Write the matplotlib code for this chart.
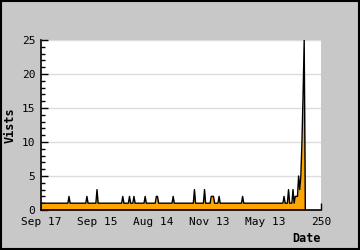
import matplotlib
matplotlib.use("Agg")
import matplotlib.pyplot as plt
from matplotlib.patches import Rectangle
from matplotlib.ticker import MultipleLocator, FixedLocator
import numpy as np

# Data: baseline of 1 visit per point, with spikes
n_points = 237
base_visits = 1
spike_idx = [25, 41, 50, 73, 79, 83, 93, 103, 104, 118, 137, 146, 152, 153, 154,
             159, 180, 217, 221, 225, 227, 228, 229, 230, 231, 232, 233, 234, 235, 236]
spike_val = [2, 2, 3, 2, 2, 2, 2, 2, 2, 2, 3, 3, 2, 2, 2,
             2, 2, 2, 3, 3, 2, 2, 2, 5, 3, 5, 10, 17, 25, 0]

tick_pos = [0, 50, 100, 150, 200, 250]
tick_labels = ["Sep 17", "Sep 15", "Aug 14", "Nov 13", "May 13", "250"]

visits = np.full(n_points, base_visits, dtype=float)
visits[spike_idx] = spike_val
x = np.arange(n_points)

plt.rcParams['font.family'] = 'DejaVu Sans Mono'

fig = plt.figure(figsize=(3.6, 2.5), dpi=100, facecolor="#c8c8c8")
# black frame round the whole image
fig.patches.append(Rectangle((1 / 360, 1 / 250), 358 / 360, 248 / 250,
                             transform=fig.transFigure, fill=False,
                             edgecolor="black", linewidth=1.5))

ax = fig.add_axes([41 / 360, 40 / 250, 280 / 360, 170 / 250])

ax.fill_between(x, 0, visits, color="#ffa500", linewidth=0)
ax.plot(x, visits, color="black", linewidth=1.0)

ax.set_xlim(0, 250)
ax.set_ylim(0, 25)

ax.yaxis.set_major_locator(MultipleLocator(5))
ax.yaxis.set_minor_locator(MultipleLocator(1))
ax.xaxis.set_major_locator(FixedLocator(tick_pos))
ax.set_xticklabels(tick_labels)

ax.grid(axis="y", color="#dcdcdc", linewidth=1)
ax.set_axisbelow(True)

for s in ["top", "right"]:
    ax.spines[s].set_visible(False)
for s in ["left", "bottom"]:
    ax.spines[s].set_linewidth(1.2)
    ax.spines[s].set_zorder(5)

ax.tick_params(axis="both", which="major", direction="in", length=5, width=1,
               labelsize=8, pad=4)
ax.tick_params(axis="y", which="minor", direction="in", length=3, width=1)
ax.tick_params(axis="x", which="major", pad=5)

ax.set_ylabel("Vists", fontsize=8.5, fontweight="bold", labelpad=4)
ax.set_xlabel("Date", fontsize=8.5, fontweight="bold", loc="right", labelpad=4)

fig.savefig("out.png", dpi=100, facecolor=fig.get_facecolor())
